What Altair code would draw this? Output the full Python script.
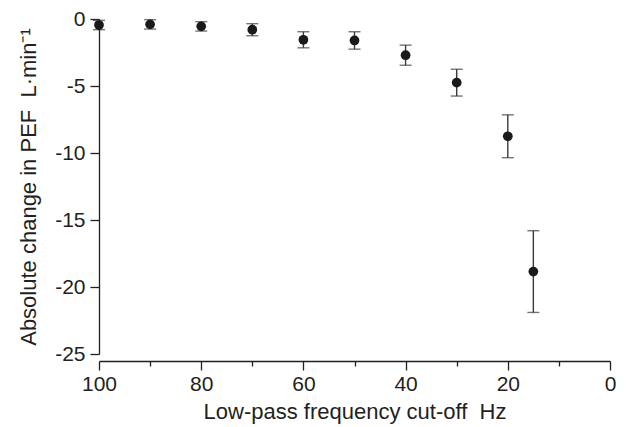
import altair as alt
import pandas as pd

# Data
freq = [100, 90, 80, 70, 60, 50, 40, 30, 20, 15]
mean_change = [-0.45, -0.4, -0.55, -0.8, -1.55, -1.6, -2.7, -4.75, -8.75, -18.85]
err = [0.35, 0.35, 0.35, 0.45, 0.6, 0.65, 0.75, 1.0, 1.6, 3.05]

x_ticks = [100, 90, 80, 70, 60, 50, 40, 30, 20, 10, 0]
y_ticks = [0, -2.5, -5, -7.5, -10, -12.5, -15, -17.5, -20, -22.5, -25]

df = pd.DataFrame({
    "freq": freq,
    "mean": mean_change,
    "lo": [m - e for m, e in zip(mean_change, err)],
    "hi": [m + e for m, e in zip(mean_change, err)],
})

FONT = "Liberation Sans"
TXT = "#231f20"

x_enc = alt.X(
    "freq:Q",
    scale=alt.Scale(domain=[100, 0], nice=False, zero=False),
    axis=alt.Axis(
        title="Low-pass frequency cut-off\u00a0 Hz",
        values=x_ticks,
        labelExpr="datum.value % 20 === 0 ? '' + datum.value : ''",
        tickSize={"condition": {"test": "datum.value % 20 === 0", "value": 9}, "value": 5},
        offset=7,
        grid=False,
        labelFlush=False,
        labelOverlap=False,
        labelPadding=3,
        titlePadding=7,
    ),
)
y_enc = alt.Y(
    "mean:Q",
    scale=alt.Scale(domain=[-25, 0], nice=False, zero=False),
    axis=alt.Axis(
        title="Absolute change in PEF\u00a0 L·min⁻¹",
        values=y_ticks,
        labelExpr="datum.value % 5 === 0 ? '' + datum.value : ''",
        tickSize={"condition": {"test": "datum.value % 5 === 0", "value": 9}, "value": 5},
        grid=False,
        labelFlush=False,
        labelOverlap=False,
        labelPadding=5,
        titlePadding=14,
    ),
)

rules = alt.Chart(df).mark_rule(color="#3a3a3a", strokeWidth=1.4).encode(
    x=x_enc, y=alt.Y("lo:Q", scale=alt.Scale(domain=[-25, 0], nice=False, zero=False)), y2="hi:Q"
)
cap_lo = alt.Chart(df).mark_tick(orient="horizontal", size=12, thickness=1.4, color="#3a3a3a").encode(
    x="freq:Q", y="lo:Q"
)
cap_hi = alt.Chart(df).mark_tick(orient="horizontal", size=12, thickness=1.4, color="#3a3a3a").encode(
    x="freq:Q", y="hi:Q"
)
points = alt.Chart(df).mark_point(filled=True, shape="circle", size=95, color="#1a1a1a", opacity=1).encode(
    x=x_enc, y=y_enc
)

chart = (
    alt.layer(rules, cap_lo, cap_hi, points)
    .properties(
        width=511,
        height=335,
        autosize=alt.AutoSizeParams(type="none"),
        padding={"left": 91, "top": 11, "right": 8, "bottom": 80},
    )
    .configure_view(stroke=None)
    .configure_axis(
        domainColor=TXT,
        domainWidth=1.3,
        tickColor=TXT,
        tickWidth=1.3,
        labelFont=FONT,
        labelFontSize=21,
        labelColor=TXT,
        titleFont=FONT,
        titleFontSize=22,
        titleFontWeight="normal",
        titleColor=TXT,
    )
)

chart.save("out.html", embed_options={"renderer": "svg", "actions": False})
